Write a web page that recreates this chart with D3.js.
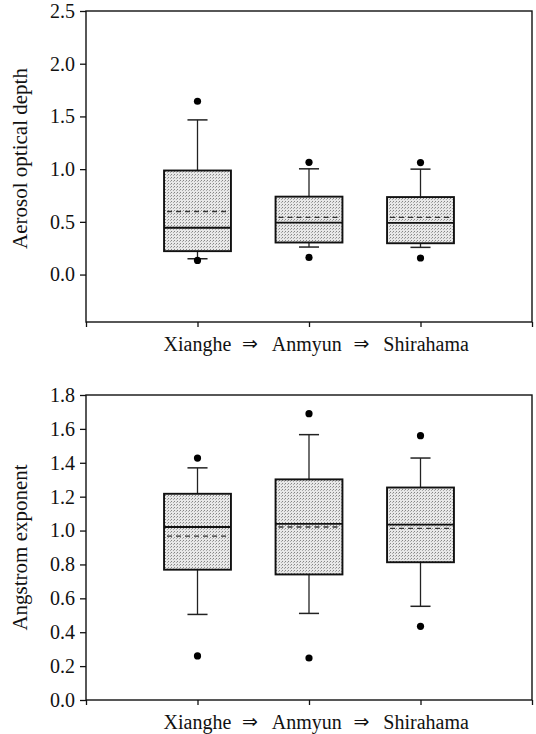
<!DOCTYPE html>
<html>
<head>
<meta charset="utf-8">
<title>AOD and Angstrom exponent box plots</title>
<script src="https://d3js.org/d3.v7.min.js"></script>
<style>
  body { margin: 0; background: #fff; }
  text { font-family: "Liberation Serif", "Times New Roman", serif; fill: #111; }
</style>
</head>
<body>
<div id="chart"></div>
<script>
// sites along the transport path
var sites = ["Xianghe", "Anmyun", "Shirahama"];

// aerosol optical depth (top panel)
var aodLowOut      = [0.134, 0.163, 0.157];
var aodLowWhisker  = [0.150, 0.261, 0.258];
var aodQ1          = [0.222, 0.304, 0.297];
var aodMedian      = [0.444, 0.493, 0.490];
var aodMean        = [0.598, 0.542, 0.542];
var aodQ3          = [0.987, 0.739, 0.735];
var aodHighWhisker = [1.467, 1.003, 1.000];
var aodHighOut     = [1.644, 1.065, 1.062];
var aodTicks       = [0, 0.5, 1.0, 1.5, 2.0, 2.5];

// Angstrom exponent (bottom panel)
var angLowOut      = [0.260, 0.248, 0.435];
var angLowWhisker  = [0.505, 0.511, 0.553];
var angQ1          = [0.769, 0.741, 0.813];
var angMedian      = [1.021, 1.039, 1.035];
var angMean        = [0.967, 1.021, 1.013];
var angQ3          = [1.217, 1.302, 1.254];
var angHighWhisker = [1.370, 1.566, 1.428];
var angHighOut     = [1.428, 1.690, 1.560];
var angTicks       = [0, 0.2, 0.4, 0.6, 0.8, 1.0, 1.2, 1.4, 1.6, 1.8];

var W = 536, H = 734;
var left = 86, right = 532;

var svg = d3.select("#chart").append("svg")
    .attr("width", W)
    .attr("height", H);

// stippled grey fill of the boxes
var pat = svg.append("defs").append("pattern")
    .attr("id", "stipple")
    .attr("width", 3).attr("height", 3)
    .attr("patternUnits", "userSpaceOnUse");
pat.append("rect").attr("width", 3).attr("height", 3).attr("fill", "#e8e8e8");
pat.append("rect").attr("width", 1).attr("height", 1).attr("fill", "#858585");
pat.append("rect").attr("x", 2).attr("y", 1).attr("width", 1).attr("height", 1).attr("fill", "#aaaaaa");

var x = d3.scaleLinear().domain([0, 4]).range([left, right]);

function drawPanel(p) {
  var y = d3.scaleLinear().domain(p.domain).range([p.bottom, p.top]);
  var g = svg.append("g");

  var rows = sites.map(function(s, i) {
    return { i: i + 1, lo: p.lo[i], lw: p.lw[i], q1: p.q1[i], med: p.med[i],
             mean: p.mean[i], q3: p.q3[i], hw: p.hw[i], hi: p.hi[i] };
  });

  var boxW = 0.6, capW = 0.18;

  // whiskers
  g.selectAll(".whisk").data(rows).enter().append("line")
    .attr("x1", function(d) { return x(d.i); })
    .attr("x2", function(d) { return x(d.i); })
    .attr("y1", function(d) { return y(d.lw); })
    .attr("y2", function(d) { return y(d.hw); })
    .attr("stroke", "#222").attr("stroke-width", 1.3);
  ["lw", "hw"].forEach(function(k) {
    g.selectAll(".cap" + k).data(rows).enter().append("line")
      .attr("x1", function(d) { return x(d.i - capW / 2); })
      .attr("x2", function(d) { return x(d.i + capW / 2); })
      .attr("y1", function(d) { return y(d[k]); })
      .attr("y2", function(d) { return y(d[k]); })
      .attr("stroke", "#222").attr("stroke-width", 1.5);
  });

  // boxes
  g.selectAll(".box").data(rows).enter().append("rect")
    .attr("x", function(d) { return x(d.i - boxW / 2); })
    .attr("width", x(boxW) - x(0))
    .attr("y", function(d) { return y(d.q3); })
    .attr("height", function(d) { return y(d.q1) - y(d.q3); })
    .attr("fill", "url(#stipple)")
    .attr("stroke", "#111").attr("stroke-width", 1.9);

  // median (solid) and mean (dashed)
  g.selectAll(".med").data(rows).enter().append("line")
    .attr("x1", function(d) { return x(d.i - boxW / 2); })
    .attr("x2", function(d) { return x(d.i + boxW / 2); })
    .attr("y1", function(d) { return y(d.med); })
    .attr("y2", function(d) { return y(d.med); })
    .attr("stroke", "#111").attr("stroke-width", 1.8);
  g.selectAll(".mean").data(rows).enter().append("line")
    .attr("x1", function(d) { return x(d.i - boxW / 2) + 3; })
    .attr("x2", function(d) { return x(d.i + boxW / 2) - 3; })
    .attr("y1", function(d) { return y(d.mean); })
    .attr("y2", function(d) { return y(d.mean); })
    .attr("stroke", "#333").attr("stroke-width", 1.4)
    .attr("stroke-dasharray", "5,4");

  // outliers
  ["lo", "hi"].forEach(function(k) {
    g.selectAll(".out" + k).data(rows).enter().append("circle")
      .attr("cx", function(d) { return x(d.i); })
      .attr("cy", function(d) { return y(d[k]); })
      .attr("r", 3.6)
      .attr("fill", "#000");
  });

  // frame
  g.append("rect")
    .attr("x", left).attr("y", p.top)
    .attr("width", right - left).attr("height", p.bottom - p.top)
    .attr("fill", "none").attr("stroke", "#111").attr("stroke-width", 1.4);

  // y axis
  var ya = g.append("g").attr("transform", "translate(" + left + ",0)")
    .call(d3.axisLeft(y).tickValues(p.ticks).tickFormat(d3.format(".1f"))
      .tickSize(6).tickPadding(5));
  ya.select(".domain").remove();
  ya.selectAll("line").attr("stroke", "#111").attr("stroke-width", 1.3);
  ya.selectAll("text").style("font-family", "Liberation Serif").style("font-size", "20px").attr("fill", "#111");

  // x axis ticks (no labels, site names drawn below)
  var xa = g.append("g").attr("transform", "translate(0," + p.bottom + ")")
    .call(d3.axisBottom(x).tickValues([0, 1, 2, 3, 4]).tickFormat("").tickSize(5));
  xa.select(".domain").remove();
  xa.selectAll("line").attr("stroke", "#111").attr("stroke-width", 1.3);

  // site names with arrows
  var labelAt = [1.0, 1.98, 3.05], arrowAt = [1.47, 2.47];
  g.selectAll(".site").data(sites).enter().append("text")
    .attr("x", function(d, i) { return x(labelAt[i]); })
    .attr("y", p.bottom + 29)
    .attr("text-anchor", "middle")
    .style("font-size", "20px")
    .text(function(d) { return d; });
  g.selectAll(".arrow").data(arrowAt).enter().append("text")
    .attr("x", function(d) { return x(d); })
    .attr("y", p.bottom + 28)
    .attr("text-anchor", "middle")
    .style("font-family", "DejaVu Sans")
    .style("font-size", "19px")
    .text("\u21D2");

  // y title
  g.append("text")
    .attr("transform", "translate(27," + ((p.top + p.bottom) / 2 - p.titleShift) + ") rotate(-90)")
    .attr("text-anchor", "middle")
    .style("font-size", "21px")
    .text(p.title);
}

drawPanel({ domain: [-0.45, 2.5], top: 11, bottom: 322, ticks: aodTicks,
  lo: aodLowOut, lw: aodLowWhisker, q1: aodQ1, med: aodMedian, mean: aodMean,
  q3: aodQ3, hw: aodHighWhisker, hi: aodHighOut,
  title: "Aerosol optical depth", titleShift: 8 });

drawPanel({ domain: [0, 1.8], top: 395, bottom: 700, ticks: angTicks,
  lo: angLowOut, lw: angLowWhisker, q1: angQ1, med: angMedian, mean: angMean,
  q3: angQ3, hw: angHighWhisker, hi: angHighOut,
  title: "Angstrom exponent", titleShift: 0 });
</script>
</body>
</html>
